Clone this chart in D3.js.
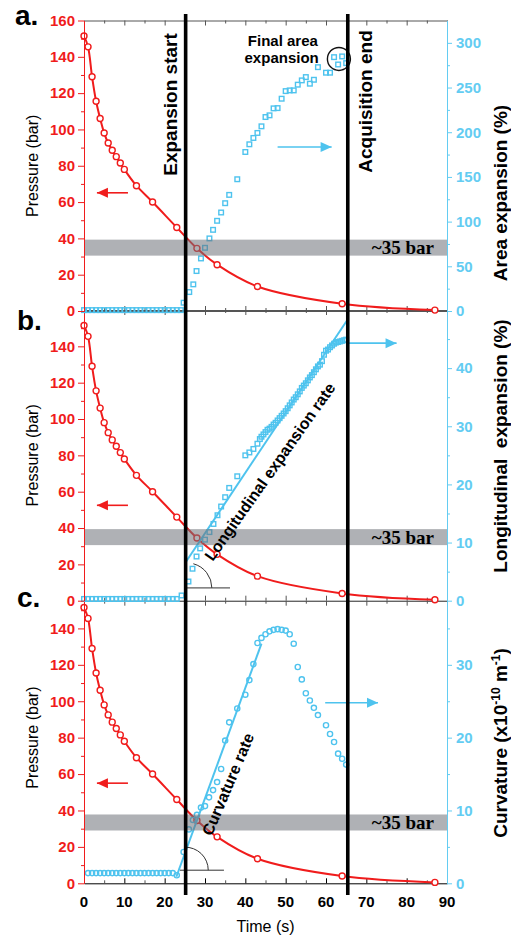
<!DOCTYPE html>
<html>
<head>
<meta charset="utf-8">
<script src="https://cdn.jsdelivr.net/npm/d3@7"></script>
<style>
body{margin:0;background:#fff}
svg{display:block}
</style>
</head>
<body>
<div id="chart"></div>
<script>
// values
var timeTicks = [0,10,20,30,40,50,60,70,80,90];

var pressTime = [0,1,2,3,4,5,6,7,8,9,10,13,17,23,28,33,43,64,87];
var pressBar  = [151.5,145.5,129,115.5,106,98,92.5,88.5,85,81.5,78,69,60,46,34.5,25.5,13.5,4,0.5];

var areaTime = [0,1,2,3,4,5,6,7,8,9,10,11,12,13,14,15,16,17,18,19,20,21,22,23,24,
  24.7,26.1,27.1,27.9,29,30,31.1,32,33,34,35,36,38,
  40,41,42,43,44,45,46,47,48,49,50,51,52,53,54,55,56,57,58,
  60,61,62,63,64,65];
var areaPct = [1,1,1,1,1,1,1,1,1,1,1,1,1,1,1,1,1,1,1,1,1,1,1,1,1,
  9.3,21.2,29.8,44.7,58.8,70.7,81.2,90.8,100.9,110.2,120.6,129.9,147.4,
  177.9,186.5,193.6,199.2,206.6,217,218.9,226.7,227,237.5,246,246.8,246.8,253.2,258,261.7,254.3,258.7,272.8,
  266.6,266.6,284,275.8,284.8,277.3];

var longTime = [0,1,2,3,4,5,6,7,8,9,10,11,12,13,14,15,16,17,18,19,20,21,22,23,
  24.2,25.9,26.9,27.9,28.8,30,31.1,32.1,33.1,34,35,36,38,40,41,42,43,43.6,
  44,44.5,45,45.5,46,46.5,47,47.5,48,48.5,49,49.5,50,50.5,51,51.5,52,52.5,53,53.5,
  54,54.5,55,55.5,56,56.5,57,57.5,58,58.5,59,59.5,60,60.5,61,61.5,62,62.5,63,63.5,64,64.5,65];
var longPct = [0.3,0.3,0.3,0.3,0.3,0.3,0.3,0.3,0.3,0.3,0.3,0.3,0.3,0.3,0.3,0.3,0.3,0.3,0.3,0.3,0.3,0.3,0.3,0.3,
  0.9,3.3,5.5,7.6,9.0,10.5,11.8,13.2,14.7,16.2,17.8,19.4,21.4,25,25.5,26.1,27,27.8,
  28.2,28.6,29.0,29.4,29.6,29.9,30.3,30.6,31.0,31.4,31.8,32.2,32.6,33.1,33.6,34.1,34.6,35.0,35.5,36.0,
  36.6,37.0,37.4,37.9,38.4,38.8,39.3,39.8,40.3,40.6,41.2,42.3,43.0,43.2,43.6,43.9,44.2,44.4,44.5,44.6,44.7,44.8,44.9];

var curvTime = [1,2,3,4,5,6,7,8,9,10,11,12,13,14,15,16,17,18,19,20,21,22,
  23,24.7,26,27,28,29,30,31,32,33,34,35,36,38,
  40,41,42,43,44,45,46,47,48,49,50,51,52,53,54,55,56,57,58,
  60,61,62,63,64,65];
var curvVal = [1.4,1.4,1.4,1.4,1.4,1.4,1.4,1.4,1.4,1.4,1.4,1.4,1.4,1.4,1.4,1.4,1.4,1.4,1.4,1.4,1.4,1.4,
  1.1,4.3,7.4,8.7,9.4,10.4,10.6,11.8,12.8,13.9,15.7,19.6,22.1,24,
  25.9,27.9,30.1,33,33.7,34.2,34.6,34.8,34.9,34.8,34.7,34.2,32.9,29.7,28,26.1,25.1,24.1,23.1,
  21.7,20.5,19.4,17.8,17.1,16.3];

// linear fits drawn in b and c
var longFitTime = [25,65.2];
var longFitPct  = [6.4,48.2];
var curvFitTime = [22.9,44];
var curvFitVal  = [0.9,32.9];

var expansionStart = 25.2;
var acquisitionEnd = 65.4;

// grey ~35 bar band per panel (bar)
var bandA = [30.5,39.3];
var bandB = [30.6,39.4];
var bandC = [29,37.8];

var RED = "#f01c1c", CYAN = "#4ec3ee", CYAN_AX = "#63ccf2";
var FONT = "'Liberation Sans', Arial, sans-serif";

var W = 511, H = 941;
var svg = d3.select("#chart").append("svg").attr("width", W).attr("height", H)
  .style("font-family", FONT);

var x = d3.scaleLinear().domain([0,90]).range([84,447]);

svg.append("clipPath").attr("id","clipC").append("rect")
  .attr("x",0).attr("y",600.7).attr("width",W).attr("height",H-600.7);

function zip(a,b){ return a.map(function(d,i){ return [d,b[i]]; }); }

function arrow(g, x1, y1, x2, y2, color){
  g.append("line").attr("x1",x1).attr("y1",y1).attr("x2",x2).attr("y2",y2)
    .attr("stroke",color).attr("stroke-width",1.6);
  var dir = x2 > x1 ? 1 : -1;
  g.append("path")
    .attr("d","M"+x2+","+y2+"L"+(x2-dir*11)+","+(y2-5)+"L"+(x2-dir*11)+","+(y2+5)+"Z")
    .attr("fill",color);
}

function drawPanel(p){
  var g = svg.append("g");
  if(p.clip) g.attr("clip-path","url(#"+p.clip+")");
  var yL = d3.scaleLinear().domain([0,160]).range([p.bottom,p.top]);
  var yR = d3.scaleLinear().domain([0,p.rMax]).range([p.bottom,p.top]);
  var frameTop = p.clip ? 600.7 : p.top;

  // top & bottom frame with inward ticks
  var minorX = [5,15,25,35,45,55,65,75,85];
  [[frameTop, d3.axisBottom], [p.bottom, d3.axisTop]].forEach(function(f){
    var a1 = g.append("g").attr("transform","translate(0,"+f[0]+")")
      .call(f[1](x).tickValues(timeTicks).tickSize(5).tickSizeOuter(0).tickFormat(""));
    a1.selectAll("path,line").attr("stroke", p.last && f[0]==p.bottom ? "#000" : "#555");
    var a2 = g.append("g").attr("transform","translate(0,"+f[0]+")")
      .call(f[1](x).tickValues(minorX).tickSize(3).tickFormat(""));
    a2.select(".domain").remove();
    a2.selectAll("line").attr("stroke","#555");
  });

  // pressure
  var pts = zip(pressTime, pressBar);
  g.append("path").datum(pts)
    .attr("d", d3.line().x(function(d){return x(d[0]);}).y(function(d){return yL(d[1]);})
      .curve(d3.curveCatmullRom.alpha(0.5)))
    .attr("fill","none").attr("stroke",RED).attr("stroke-width",2);
  g.selectAll(".pc").data(pts).enter().append("circle")
    .attr("cx",function(d){return x(d[0]);}).attr("cy",function(d){return yL(d[1]);})
    .attr("r",3).attr("fill","#fff").attr("stroke",RED).attr("stroke-width",1.4);

  // right series
  var rpts = zip(p.rTime, p.rVal);
  if(p.fitT){
    g.append("line")
      .attr("x1",x(p.fitT[0])).attr("y1",yR(p.fitV[0]))
      .attr("x2",x(p.fitT[1])).attr("y2",yR(p.fitV[1]))
      .attr("stroke",CYAN).attr("stroke-width",2);
  }
  if(p.marker=="square"){
    g.selectAll(".rs").data(rpts).enter().append("rect")
      .attr("x",function(d){return x(d[0])-2.3;}).attr("y",function(d){return yR(d[1])-2.3;})
      .attr("width",4.6).attr("height",4.6)
      .attr("fill","none").attr("stroke",CYAN).attr("stroke-width",1.4);
  } else {
    g.selectAll(".rc").data(rpts).enter().append("circle")
      .attr("cx",function(d){return x(d[0]);}).attr("cy",function(d){return yR(d[1]);})
      .attr("r",2.6).attr("fill","none").attr("stroke",CYAN).attr("stroke-width",1.4);
  }

  // ~35 bar band
  g.append("rect").attr("x",x(0)).attr("width",x(90)-x(0))
    .attr("y",yL(p.band[1])).attr("height",yL(p.band[0])-yL(p.band[1]))
    .attr("fill","#6d7178").attr("fill-opacity",0.55);
  g.append("text").attr("x",434).attr("y",yL((p.band[0]+p.band[1])/2))
    .attr("dy","0.35em").attr("text-anchor","end")
    .style("font-family","'Liberation Serif','DejaVu Serif',serif").style("font-weight","bold")
    .style("font-size","19px").text("~35 bar");

  // arrows
  arrow(g, x(p.redArrow[0]), yL(p.redArrow[2]), x(p.redArrow[1]), yL(p.redArrow[2]), RED);
  arrow(g, x(p.cyanArrow[0]), yR(p.cyanArrow[2]), x(p.cyanArrow[1]), yR(p.cyanArrow[2]), CYAN);

  // left axis
  var la = g.append("g").attr("transform","translate(84,0)")
    .call(d3.axisLeft(yL).tickValues(p.lTicks).tickSize(6).tickPadding(3).tickSizeOuter(0));
  la.select(".domain").attr("stroke",RED);
  la.selectAll("line").attr("stroke",RED);
  la.selectAll("text").attr("fill",RED).style("font-size","15px").style("font-weight","bold")
    .style("font-family",FONT);
  var la2 = g.append("g").attr("transform","translate(84,0)")
    .call(d3.axisLeft(yL).tickValues([10,30,50,70,90,110,130,150]).tickSize(3).tickFormat(""));
  la2.select(".domain").remove();
  la2.selectAll("line").attr("stroke",RED);

  // right axis
  var ra = g.append("g").attr("transform","translate(447,0)")
    .call(d3.axisRight(yR).tickValues(p.rTicks).tickSize(5).tickPadding(4).tickSizeOuter(0));
  ra.select(".domain").attr("stroke",CYAN_AX);
  ra.selectAll("line").attr("stroke",CYAN_AX);
  ra.selectAll("text").attr("fill",CYAN_AX).style("font-size","15px").style("font-weight","bold")
    .style("font-family",FONT);
  var ra2 = g.append("g").attr("transform","translate(447,0)")
    .call(d3.axisRight(yR).tickValues(p.rMinor).tickSize(3).tickFormat(""));
  ra2.select(".domain").remove();
  ra2.selectAll("line").attr("stroke",CYAN_AX);

  // titles
  var mid = (p.top+p.bottom)/2;
  svg.append("text").attr("transform","translate(32,"+mid+") rotate(-90)")
    .attr("text-anchor","middle").attr("dy","0.35em")
    .style("font-size","16px").text("Pressure (bar)");
  var rt = svg.append("text").attr("transform","translate(500,"+p.rTitleY+") rotate(-90)")
    .attr("text-anchor","middle").attr("dy","0.35em")
    .style("font-size","19px").style("font-weight","bold").style("white-space","pre");
  p.rTitle(rt);

  svg.append("text").attr("x",p.letter[0]).attr("y",p.letter[1])
    .style("font-size","28px").style("font-weight","bold").text(p.id+".");

  if(p.extra) p.extra(g, yL, yR);
  return {yL:yL, yR:yR};
}

var panels = [
  {id:"c", top:592, bottom:883.3, clip:"clipC", last:true, rMax:40,
   rTicks:[0,10,20,30], rMinor:[5,15,25,35], lTicks:[0,20,40,60,80,100,120,140],
   rTime:curvTime, rVal:curvVal, marker:"circle", fitT:curvFitTime, fitV:curvFitVal,
   band:bandC, redArrow:[10.9,3.2,55], cyanArrow:[59.8,72.9,24.8], rTitleY:743, letter:[17,607],
   rTitle:function(t){
     t.append("tspan").text("Curvature (x10");
     t.append("tspan").attr("baseline-shift","super").style("font-size","12px").text("-10");
     t.append("tspan").text(" m");
     t.append("tspan").attr("baseline-shift","super").style("font-size","12px").text("-1");
     t.append("tspan").text(")");
   },
   extra:function(g, yL, yR){
     // angle mark at start of fit
     var cx = x(25.1), cy = yR(1.8), r = 23;
     g.append("line").attr("x1",x(23.8)).attr("x2",x(34.7)).attr("y1",cy).attr("y2",cy)
       .attr("stroke","#333").attr("stroke-width",1);
     g.append("path").attr("d","M"+(cx-0.8)+","+(cy-r)+" A"+r+","+r+" 0 0 1 "+(cx+r)+","+cy)
       .attr("fill","none").attr("stroke","#333").attr("stroke-width",1);
     g.append("text").attr("transform","translate("+x(35.7)+","+yR(13.6)+") rotate(-67)")
       .attr("text-anchor","middle").attr("dy","0.35em")
       .style("font-size","16px").style("font-weight","bold").text("Curvature rate");
     // x labels
     g.selectAll(".xl").data(timeTicks).enter().append("text")
       .attr("x",function(d){return x(d);}).attr("y",906.5).attr("text-anchor","middle")
       .style("font-size","15px").style("font-weight","bold").text(function(d){return d;});
     g.append("text").attr("x",(x(0)+x(90))/2).attr("y",932).attr("text-anchor","middle")
       .style("font-size","16px").text("Time (s)");
   }},
  {id:"b", top:310, bottom:600.7, rMax:50,
   rTicks:[0,10,20,30,40], rMinor:[5,15,25,35,45], lTicks:[0,20,40,60,80,100,120,140],
   rTime:longTime, rVal:longPct, marker:"square", fitT:longFitTime, fitV:longFitPct,
   band:bandB, redArrow:[10.9,3.2,52.5], cyanArrow:[65.1,77.5,44.3], rTitleY:446, letter:[17,330],
   rTitle:function(t){ t.text("Longitudinal  expansion (%)"); },
   extra:function(g, yL, yR){
     var cx = x(25.5), cy = yR(2.2), r = 25;
     var a = 75*Math.PI/180;
     g.append("line").attr("x1",x(25.2)).attr("x2",x(36.2)).attr("y1",cy).attr("y2",cy)
       .attr("stroke","#333").attr("stroke-width",1);
     g.append("path").attr("d","M"+(cx+r*Math.cos(a))+","+(cy-r*Math.sin(a))+" A"+r+","+r+" 0 0 1 "+(cx+r)+","+cy)
       .attr("fill","none").attr("stroke","#333").attr("stroke-width",1);
     g.append("text").attr("transform","translate("+x(46.1)+","+yR(22.2)+") rotate(-54.7)")
       .attr("text-anchor","middle").attr("dy","0.35em")
       .style("font-size","16px").style("font-weight","bold").text("Longitudinal expansion rate");
   }},
  {id:"a", top:20.5, bottom:311, rMax:325,
   rTicks:[0,50,100,150,200,250,300], rMinor:[25,75,125,175,225,275], lTicks:[0,20,40,60,80,100,120,140,160],
   rTime:areaTime, rVal:areaPct, marker:"square",
   band:bandA, redArrow:[10.9,3.2,65.1], cyanArrow:[48,61.4,183.5], rTitleY:193, letter:[15,25],
   rTitle:function(t){ t.text("Area expansion (%)"); },
   extra:function(g, yL, yR){
     var tx = g.append("text").attr("text-anchor","middle")
       .style("font-size","15px").style("font-weight","bold");
     tx.append("tspan").attr("x",x(49.3)).attr("y",46).text("Final area");
     tx.append("tspan").attr("x",x(49)).attr("y",63).text("expansion");
     g.append("circle").attr("cx",x(63.2)).attr("cy",yR(282)).attr("r",11.5)
       .attr("fill","none").attr("stroke","#111").attr("stroke-width",1.4);
   }}
];

panels.forEach(function(p){ drawPanel(p); });

// event lines spanning all panels
[expansionStart, acquisitionEnd].forEach(function(t){
  svg.append("line").attr("x1",x(t)).attr("x2",x(t)).attr("y1",14).attr("y2",895)
    .attr("stroke","#000").attr("stroke-width",3.6);
});
svg.append("text").attr("transform","translate(170,104.5) rotate(-90)")
  .attr("text-anchor","middle").attr("dy","0.35em")
  .style("font-size","19px").style("font-weight","bold").text("Expansion start");
svg.append("text").attr("transform","translate(365.5,101.5) rotate(-90)")
  .attr("text-anchor","middle").attr("dy","0.35em")
  .style("font-size","19px").style("font-weight","bold").text("Acquisition end");
</script>
</body>
</html>
